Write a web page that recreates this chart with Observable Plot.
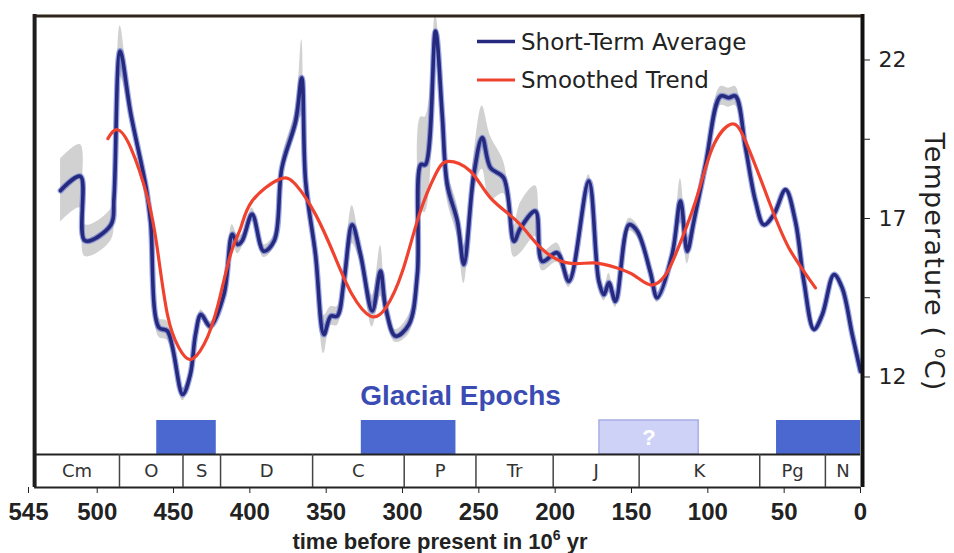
<!DOCTYPE html>
<html><head><meta charset="utf-8">
<script src="https://cdn.jsdelivr.net/npm/d3@7"></script>
<script src="https://cdn.jsdelivr.net/npm/@observablehq/plot@0.6"></script>
<style>body{margin:0;background:#fff;} svg{display:block}</style>
</head><body><div id="chart"></div>
<script>
// Short-term average (age in Myr before present, temperature in °C, uncertainty half-width)
const blueAge = [524,511,508,491,489,485,478,468,465,459.6,454,444,439,435.6,432,426,417,411.5,408,405,398.5,391,384,379,370,366,363.5,357,351.5,347,342.8,338.4,333,327.5,319.8,314.4,311,304.6,295.8,290.3,288,285,278.4,274,270.7,264,259.8,253.3,247.8,242.4,233.7,227,222.7,212.9,208.5,198.7,191,178,171.4,168,164.8,160.5,151.7,146.2,137.6,133.2,123.4,117.9,113.5,109.2,101.5,91.7,86.3,81.9,75.3,68.8,63.3,56.7,49.1,42.6,37.1,30.5,25,17.4,12,5.4,0];
const blueTemp = [17.88,18.33,16.3,16.8,17.65,22.28,20.3,17.98,16.9,13.56,13.45,11.45,12.08,13.34,13.97,13.6,14.6,16.5,16.18,16.3,17.13,15.97,16.3,18.6,20.07,21.44,18.18,15.86,13.34,13.92,13.92,15.02,16.8,15.86,14.08,15.34,14.18,13.29,13.66,15.23,18.7,18.7,22.91,20.28,18.07,16.9,15.55,18.39,19.55,18.6,18.28,16.28,16.7,17.23,15.65,15.92,15.02,18.18,15.02,14.6,14.97,14.39,16.8,16.6,15.3,14.5,15.86,17.55,15.97,16.9,18.7,20.86,20.81,20.86,19.23,17.55,16.8,17.13,17.91,16.9,15.02,13.5,13.97,15.23,14.81,13.34,12.18];
const blueSpread = [1.0,1.0,0.5,0.5,0.3,0.8,0.2,0.2,0.2,0.3,0.3,0.2,0.15,0.15,0.15,0.15,0.2,0.3,0.3,0.2,0.2,0.2,0.2,0.3,0.4,1.2,0.3,0.3,0.6,0.3,0.3,0.3,0.6,0.3,0.5,0.8,0.3,0.2,0.3,0.5,1.5,1.5,0.5,0.8,0.5,0.5,0.6,0.6,1.0,1.0,0.5,0.5,0.8,0.8,0.3,0.3,0.2,0.2,0.2,0.2,0.3,0.2,0.2,0.2,0.15,0.15,0.15,0.7,0.4,0.2,0.15,0.3,0.3,0.3,0.1,0.1,0.05,0.05,0,0,0,0,0,0,0,0,0];
// Smoothed trend
const redAge = [493,487,478,467,460.7,454,446.5,439,430,421.4,412.7,406,398.5,381,370,357,344,333,321,311,300,289,278.4,270,255.5,242.4,224.8,209.6,192,174.7,159.4,148,137,128,121.2,108,97,85,75.3,60,47,29.5];
const redTemp = [19.52,19.8,19.23,17.65,16.08,13.97,12.92,12.55,13.03,14.18,15.86,16.7,17.55,18.23,18.07,17.13,15.76,14.6,13.92,14.18,15.34,17.13,18.39,18.8,18.49,17.65,16.9,16.08,15.6,15.6,15.44,15.2,14.9,15.2,15.86,17.55,19.23,19.97,19.44,17.55,16.08,14.81];
// Geological periods
const periodNames = ["Cm","O","S","D","C","P","Tr","J","K","Pg","N"];
const periodStart = [541,485.4,443.8,419.2,358.9,298.9,251.9,201.3,145,66,23];
const periodEnd = [485.4,443.8,419.2,358.9,298.9,251.9,201.3,145,66,23,0];
// Glacial epochs
const glacialStart = [461,327,171,55];
const glacialEnd = [422,265,106,0];
const glacialCertain = [true,true,false,true];
// Ticks
const xTicks = [545,500,450,400,350,300,250,200,150,100,50,0];
const yTicks = [12,14.5,17,19.5,22];

const blue = blueAge.map((a,i)=>({age:a, temp:blueTemp[i], lo:blueTemp[i]-blueSpread[i], hi:blueTemp[i]+blueSpread[i]}));
const red = redAge.map((a,i)=>({age:a, temp:redTemp[i]}));
const periods = periodNames.map((n,i)=>({name:n, start:periodStart[i], end:periodEnd[i]}));
const glacial = glacialStart.map((s,i)=>({start:s, end:glacialEnd[i], certain:glacialCertain[i]}));

const yBot = 8.514, yTop = 23.435, yStrip = 9.555, yBar = 10.628, xLeft = 541;
const sans = "'DejaVu Sans', Verdana, sans-serif";
const arial = "'Liberation Sans', Arial, Helvetica, sans-serif";

const chart = Plot.plot({
  width: 954, height: 553,
  marginLeft: 28, marginRight: 94, marginTop: 14, marginBottom: 66,
  style: {background: "#fff", color: "#222", overflow: "visible"},
  x: {domain: [545, 0]},
  y: {domain: [yBot, yTop]},
  marks: [
    Plot.areaY(blue, {x: "age", y1: "lo", y2: "hi", fill: "#c9c9c9", fillOpacity: 0.85, curve: "catmull-rom"}),
    Plot.line(blue, {x: "age", y: "temp", stroke: "#4d5fcf", strokeWidth: 6, strokeOpacity: 0.55, curve: "catmull-rom"}),
    Plot.line(blue, {x: "age", y: "temp", stroke: "#262a7e", strokeWidth: 3.6, curve: "catmull-rom"}),
    Plot.line(red, {x: "age", y: "temp", stroke: "#f0432f", strokeWidth: 3.2, curve: "natural"}),
    Plot.rect(glacial, {x1: "start", x2: "end", y1: yStrip, y2: yBar,
      fill: d => d.certain ? "#4a68cf" : "#cfd2f7", stroke: d => d.certain ? "none" : "#a9aee6", strokeWidth: 1.5}),
    Plot.text(glacial.filter(d => !d.certain), {x: d => (d.start + d.end) / 2, y: (yStrip + yBar) / 2, text: () => "?",
      fill: "#fff", fontSize: 22, fontWeight: "bold", fontFamily: arial}),
    Plot.text(["Glacial Epochs"], {x: 262, y: 11.385, text: d => d, fill: "#3a4bb3", fontSize: 28, fontWeight: "bold", fontFamily: arial}),
    Plot.ruleY([yStrip, yBot], {x1: xLeft, x2: 0, stroke: "#222", strokeWidth: 2}),
    Plot.ruleX(periodEnd.filter(d => d > 0), {y1: yBot, y2: yStrip, stroke: "#444", strokeWidth: 1.5}),
    Plot.text(periods, {x: d => (d.start + d.end) / 2, y: (yStrip + yBot) / 2, text: "name", fill: "#333",
      fontSize: 18, fontFamily: sans, ariaLabel: "period-labels"}),
    Plot.ruleX([xLeft], {y1: yBot, y2: yTop, stroke: "#1e1e1e", strokeWidth: 4}),
    Plot.ruleX([0], {y1: yBot, y2: yTop, stroke: "#111", strokeWidth: 4, dx: 2}),
    Plot.ruleY([yTop], {x1: xLeft, x2: 0, stroke: "#2e2419", strokeWidth: 3, dy: 1.5, dx: 1}),
    Plot.axisX({ticks: xTicks, tickSize: 6, tickPadding: 9, fontSize: 24, fontWeight: "bold", fontFamily: arial, label: null}),
    Plot.axisY({anchor: "right", ticks: yTicks, tickFormat: d => Number.isInteger(d) ? String(d) : "",
      tickSize: 7, tickPadding: 9, fontSize: 22, fontFamily: sans, label: null, dx: 2})
  ]
});

const svg = d3.select(chart);
svg.select('g[aria-label="period-labels"]').attr("letter-spacing", 3);

// Legend
const leg = svg.append("g").attr("text-anchor", "start");
[["Short-Term Average", "#262a7e", 3.6, 41.5], ["Smoothed Trend", "#f0432f", 3.2, 80]].forEach(([label, color, w, y]) => {
  leg.append("line").attr("x1", 477).attr("x2", 515).attr("y1", y).attr("y2", y).attr("stroke", color).attr("stroke-width", w);
  leg.append("text").attr("x", 521).attr("y", y + 8.3).attr("text-anchor", "start").attr("font-family", sans).attr("font-size", 23).attr("fill", "#222").text(label);
});

// Axis titles
const xt = svg.append("text").attr("x", 440).attr("y", 549).attr("text-anchor", "middle")
  .attr("font-family", arial).attr("font-weight", "bold").attr("font-size", 22).attr("fill", "#222");
xt.append("tspan").text("time before present in 10");
xt.append("tspan").attr("dy", -9).attr("font-size", 14).text("6");
xt.append("tspan").attr("dy", 9).text(" yr");

const yt = svg.append("text").attr("transform", "translate(925,262) rotate(90)").attr("text-anchor", "middle")
  .attr("font-family", sans).attr("font-size", 27).attr("letter-spacing", 1.2).attr("fill", "#222");
yt.append("tspan").text("Temperature ( ");
yt.append("tspan").attr("dy", -10).attr("font-size", 17).text("o");
yt.append("tspan").attr("dy", 10).text("C)");

document.getElementById("chart").appendChild(chart);
</script>
</body></html>
